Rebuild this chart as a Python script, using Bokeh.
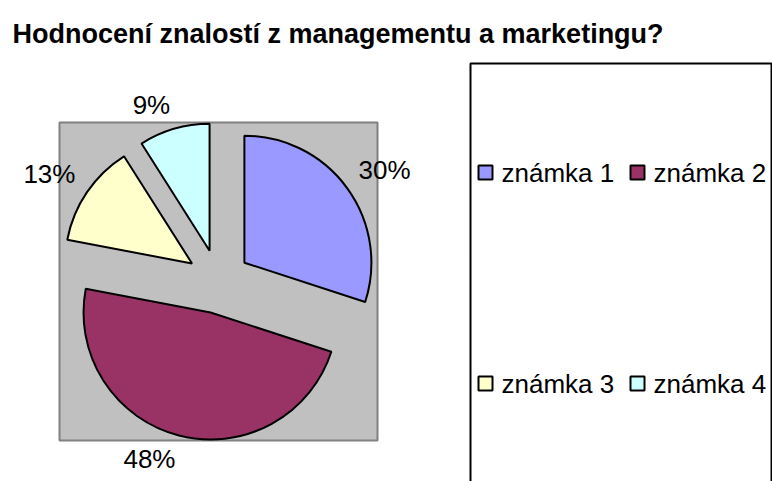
import math
from bokeh.plotting import figure
from bokeh.models import Range1d, ColumnDataSource
from bokeh.core.properties import value
from bokeh.embed import file_html
from bokeh.resources import INLINE

# ---- data ----
categories = ["známka 1", "známka 2", "známka 3", "známka 4"]
shares = [30, 48, 13, 9]
colors = ["#9999FF", "#993366", "#FFFFCC", "#CCFFFF"]
title_text = "Hodnocení znalostí z managementu a marketingu?"

# ---- layout (image pixel coordinates, y measured downwards) ----
W, H = 772, 481
FONT = value("Liberation Sans")
cx, cy = 218, 281          # pie centre
R = 127                    # pie radius
EXPLODE = 32               # explosion distance
LABEL_R = 173              # label anchor radius
plot_box = (59, 377, 122, 440)   # left, right, top, bottom of grey plot area
legend_box = (470, 771, 63, 520)

p = figure(width=W, height=H, output_backend="svg", toolbar_location=None,
           x_range=Range1d(0, W), y_range=Range1d(-H, 0),
           x_axis_location=None, y_axis_location=None, min_border=0)
p.grid.visible = False
p.outline_line_color = None
p.background_fill_color = "white"
p.border_fill_color = "white"

# grey plot area
l, r_, t, b = plot_box
p.quad(left=[l], right=[r_], top=[-t], bottom=[-b], fill_color="#C0C0C0",
       line_color="#808080", line_width=2)

# pie slices
total = float(sum(shares))
xs, ys, starts, ends, mids = [], [], [], [], []
cum = 0.0
for v in shares:
    th1 = 2 * math.pi * cum / total
    cum += v
    th2 = 2 * math.pi * cum / total
    mid = (th1 + th2) / 2
    mids.append(mid)
    xs.append(cx + EXPLODE * math.sin(mid))
    ys.append(-(cy - EXPLODE * math.cos(mid)))
    starts.append(math.pi / 2 - th2)
    ends.append(math.pi / 2 - th1)

src = ColumnDataSource(dict(x=xs, y=ys, start=starts, end=ends, color=colors))
p.wedge(x="x", y="y", radius=R, start_angle="start", end_angle="end",
        direction="anticlock", fill_color="color", line_color="black",
        line_width=2, source=src)

# percentage labels
for v, mid in zip(shares, mids):
    ax = cx + LABEL_R * math.sin(mid)
    ay = cy - LABEL_R * math.cos(mid)
    align = "left" if math.sin(mid) > 0 else "right"
    yc = ay - 10 if math.cos(mid) > 0 else ay + 10
    p.text(x=[ax], y=[-yc], text=[f"{round(100 * v / total)}%"],
           text_font=FONT, text_font_size="26px", text_color="black",
           text_align=align, text_baseline="middle")

# title
p.text(x=[12], y=[-33], text=[title_text], text_font=FONT,
       text_font_size="27px", text_font_style="bold", text_color="black",
       text_align="left", text_baseline="alphabetic")

# legend box
l, r_, t, b = legend_box
p.quad(left=[l], right=[r_], top=[-t], bottom=[-b], fill_color="white",
       line_color="black", line_width=2)

# legend entries (2 columns)
mx, my, tx = [], [], []
for i, c in enumerate(categories):
    col, row = i % 2, i // 2
    mx.append(485 + 152 * col)
    my.append(-(172 + 211 * row))
    tx.append(485 + 152 * col + 16)
p.rect(x=mx, y=my, width=14, height=14, fill_color=colors,
       line_color="black", line_width=2)
p.text(x=tx, y=my, text=categories, text_font=FONT, text_font_size="26px",
       text_color="black", text_align="left", text_baseline="middle")

open("out.html", "w").write(file_html(p, INLINE))
